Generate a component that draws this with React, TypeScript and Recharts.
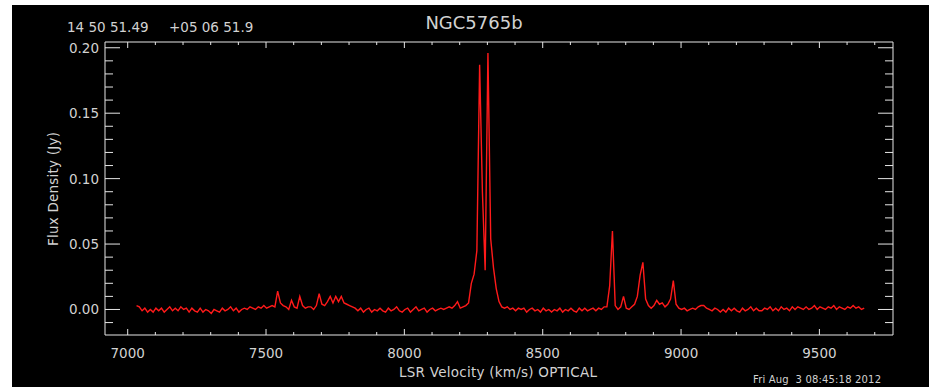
import React from 'react';
import { LineChart, Line, XAxis, YAxis } from 'recharts';

// channel grid of the spectrum (km/s)
const V0 = 7032;
const DV = 10;

// flux density per channel, mJy
const fluxMJy = [
    3, 2, -1, 1, -2, 0, -2, 1, -1, 1,       // 7032
    -2, 0, 2, -1, 1, -1, 2, 0, 1, -2,       // 7132
    1, -1, -2, 1, -2, 0, -1, -3, 0, -1,     // 7232
    -2, 1, -1, 0, 2, -1, 1, -2, 0, 1,       // 7332
    0, 2, 1, 0, 2, 1, 3, 1, 2, 3,           // 7432
    2, 14, 5, 3, 2, 0, 7, 2, 1, 10,         // 7532
    3, 1, 2, 2, 0, 3, 12, 4, 3, 6,          // 7632
    10, 5, 10, 6, 10, 5, 4, 3, 2, 1,        // 7732
    -1, 1, -2, 0, 1, -2, 0, -1, 1, -1,      // 7832
    -2, 1, -1, 0, 2, -1, -2, 0, 1, -2,      // 7932
    0, 2, -1, 0, 1, -2, 0, 1, -1, 0,        // 8032
    1, 0, 1, 2, 1, 3, 6, 1, 2, 3,           // 8132
    5, 20, 27, 45, 187, 90, 30, 196, 54, 32, // 8232
    16, 6, 2, 1, 2, 0, 1, -1, 1, 0,         // 8332
    1, -2, 0, 1, -1, 0, -2, 1, -1, 0,       // 8432
    -2, 0, -1, 1, -2, 0, -1, 1, -1, -2,     // 8532
    1, -1, 1, -1, 0, 1, -1, 1, 0, 2,        // 8632
    2, 18, 60, 3, 0, 2, 10, 1, 0, 2,        // 8732
    4, 10, 26, 36, 8, 3, 1, 3, 7, 4,        // 8832
    5, 2, 4, 8, 22, 4, 1, 0, 1, -1,         // 8932
    0, 1, 0, 2, 3, 3, 1, 0, -1, 1,          // 9032
    0, -2, 0, -2, 1, -1, 1, -1, -2, 1,      // 9132
    -1, 0, 2, -1, 1, -1, -1, 1, 0, 2,       // 9232
    -1, 1, -1, 2, 0, 1, -1, 2, 0, 2,        // 9332
    1, 0, 2, 0, 1, 3, 0, 2, 1, 0,           // 9432
    2, 1, 3, 0, 2, 1, 0, 2, 1, 3,           // 9532
    1, 2, 0, 1,                             // 9632
];

const xTicks = [
    7000, 7100, 7200, 7300, 7400, 7500, 7600, 7700, 7800, 7900,
    8000, 8100, 8200, 8300, 8400, 8500, 8600, 8700, 8800, 8900,
    9000, 9100, 9200, 9300, 9400, 9500, 9600, 9700,
];
const yTicks = [
    -0.01, 0, 0.01, 0.02, 0.03, 0.04, 0.05, 0.06, 0.07, 0.08, 0.09, 0.1,
    0.11, 0.12, 0.13, 0.14, 0.15, 0.16, 0.17, 0.18, 0.19, 0.2,
];

const data = fluxMJy.map((f, i) => ({ v: V0 + i * DV, flux: f / 1000 }));

const AXIS = '#e6e6e6';
const TEXT = '#d2d2d2';
const FONT = '"DejaVu Sans", sans-serif';

const isMajorX = (v: number) => v % 500 === 0;
const isMajorY = (v: number) => Math.round(v * 100) % 5 === 0;

const BottomTick = (props: any) => {
    const { x, y, payload } = props;
    const major = isMajorX(payload.value);
    return (
        <g>
            <line x1={x} y1={y} x2={x} y2={y - (major ? 6 : 3)} stroke={AXIS} />
            {major && (
                <text x={x} y={y + 18} textAnchor="middle" dominantBaseline="central"
                    fill={TEXT} fontSize={13.5} fontFamily={FONT}>
                    {payload.value}
                </text>
            )}
        </g>
    );
};

const TopTick = (props: any) => {
    const { x, y, payload } = props;
    const major = isMajorX(payload.value);
    return <line x1={x} y1={y} x2={x} y2={y + (major ? 6 : 3)} stroke={AXIS} />;
};

const LeftTick = (props: any) => {
    const { x, y, payload } = props;
    const major = isMajorY(payload.value);
    return (
        <g>
            <line x1={x} y1={y} x2={x + (major ? 15 : 8)} y2={y} stroke={AXIS} />
            {major && (
                <text x={x - 6} y={y} textAnchor="end" dominantBaseline="central"
                    fill={TEXT} fontSize={13.5} fontFamily={FONT}>
                    {payload.value.toFixed(2)}
                </text>
            )}
        </g>
    );
};

const RightTick = (props: any) => {
    const { x, y, payload } = props;
    const major = isMajorY(payload.value);
    return <line x1={x} y1={y} x2={x - (major ? 15 : 8)} y2={y} stroke={AXIS} />;
};

export default function App() {
    const xDomain = [6918, 9766];
    const yDomain = [-0.0195, 0.2044];
    return (
        <div style={{ position: 'absolute', left: 12, top: 5, width: 917, height: 382, background: '#000' }}>
            <LineChart width={917} height={382} data={data} margin={{ top: 0, right: 0, bottom: 0, left: 0 }}>
                <XAxis dataKey="v" type="number" domain={xDomain} allowDataOverflow ticks={xTicks} interval={0}
                    height={52} tickSize={0} tickMargin={0} axisLine={{ stroke: AXIS }} tickLine={false}
                    tick={<BottomTick />} />
                <XAxis xAxisId="top" orientation="top" dataKey="v" type="number" domain={xDomain} allowDataOverflow
                    ticks={xTicks} interval={0} height={37} tickSize={0} tickMargin={0}
                    axisLine={{ stroke: AXIS }} tickLine={false} tick={<TopTick />} />
                <YAxis type="number" domain={yDomain} allowDataOverflow ticks={yTicks} interval={0} width={93}
                    tickSize={0} tickMargin={0} axisLine={{ stroke: AXIS }} tickLine={false} tick={<LeftTick />} />
                <YAxis yAxisId="right" orientation="right" type="number" domain={yDomain} allowDataOverflow
                    ticks={yTicks} interval={0} width={36} tickSize={0} tickMargin={0}
                    axisLine={{ stroke: AXIS }} tickLine={false} tick={<RightTick />} />
                <Line type="linear" dataKey="flux" stroke="#ff1a1a" strokeWidth={1.4} dot={false}
                    isAnimationActive={false} />
            </LineChart>
            <svg width={917} height={382} style={{ position: 'absolute', left: 0, top: 0, pointerEvents: 'none' }}>
                <g fill={TEXT} fontFamily={FONT}>
                    <text x={462} y={17} textAnchor="middle" dominantBaseline="central" fontSize={18}>NGC5765b</text>
                    <text x={55} y={22} dominantBaseline="central" fontSize={13.5}>14 50 51.49</text>
                    <text x={157} y={22} dominantBaseline="central" fontSize={13.5}>+05 06 51.9</text>
                    <text x={486} y={367} textAnchor="middle" dominantBaseline="central" fontSize={13.5}
                        textLength={198}>LSR Velocity (km/s) OPTICAL</text>
                    <text x={41} y={184} textAnchor="middle" dominantBaseline="central" fontSize={13.5}
                        textLength={114} transform="rotate(-90 41 184)">Flux Density (Jy)</text>
                    <text x={741} y={378} fontSize={10} textLength={128} style={{ whiteSpace: 'pre' }}>
                        Fri Aug  3 08:45:18 2012
                    </text>
                </g>
            </svg>
        </div>
    );
}
